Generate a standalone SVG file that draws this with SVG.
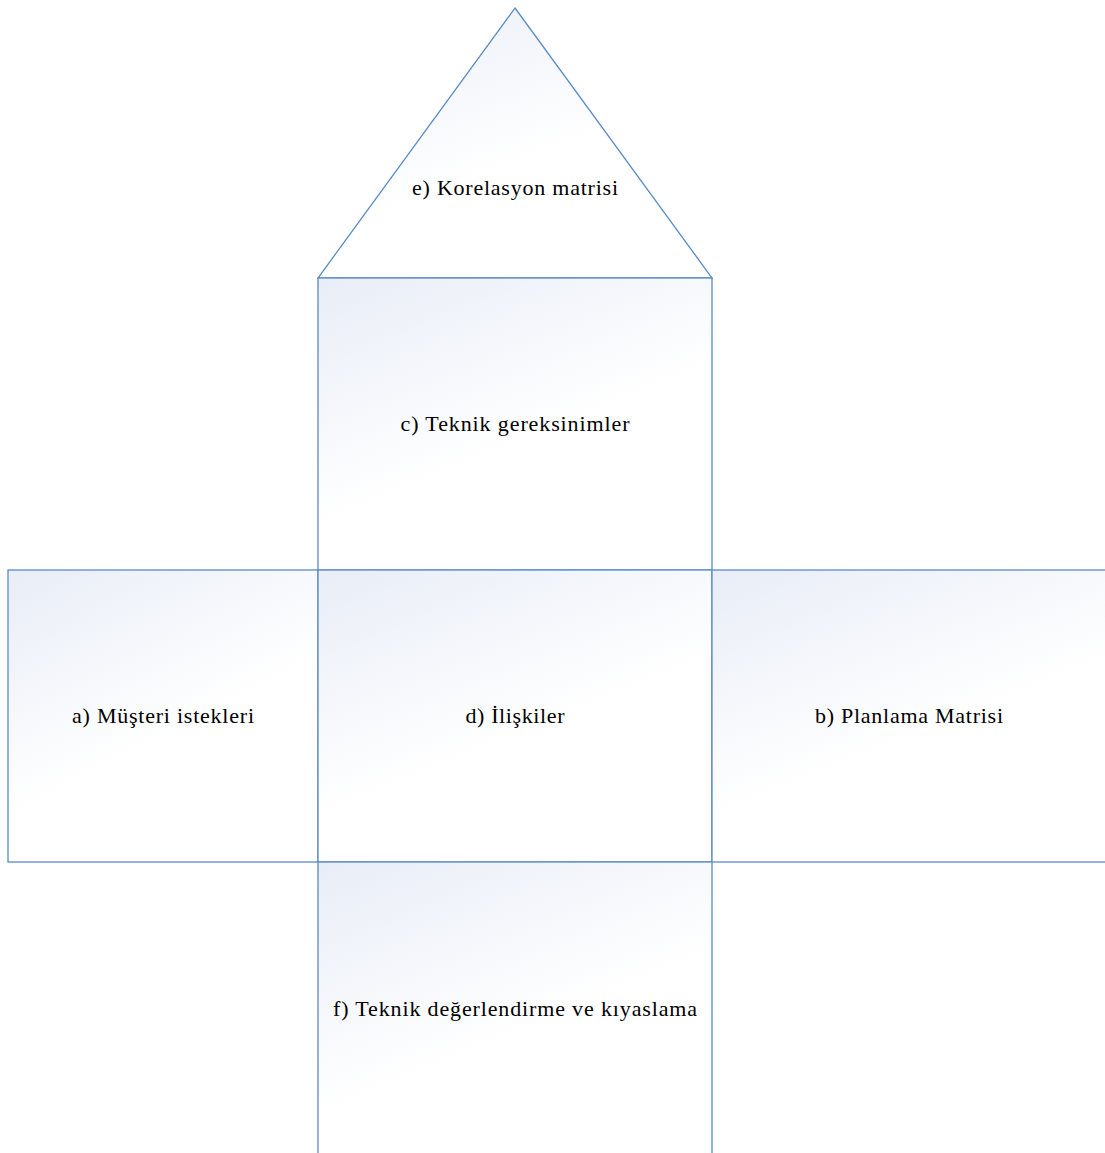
<svg xmlns="http://www.w3.org/2000/svg" width="1105" height="1153" viewBox="0 0 1105 1153">
<defs>
<linearGradient id="g" x1="0" y1="0" x2="0.55" y2="1">
<stop offset="0" stop-color="#e8edf7"/>
<stop offset="0.65" stop-color="#ffffff"/>
<stop offset="1" stop-color="#ffffff"/>
</linearGradient>
<style>
.s{fill:url(#g);stroke:#5a8cc6;stroke-width:1.3}
.t{font-family:"Liberation Serif","Times New Roman",serif;font-size:22px;fill:#000;text-anchor:middle}
</style>
</defs>
<rect width="1105" height="1153" fill="#fff"/>
<g id="node-e"><polygon class="s" points="515,8 712,278 318,278"/><text class="t" x="515" y="195" textLength="206" lengthAdjust="spacing">e) Korelasyon matrisi</text></g>
<g id="node-c"><rect class="s" x="318" y="278" width="394" height="292"/><text class="t" x="515" y="431" textLength="229" lengthAdjust="spacing">c) Teknik gereksinimler</text></g>
<g id="node-a"><rect class="s" x="8" y="570" width="310" height="292"/><text class="t" x="163" y="723" textLength="182" lengthAdjust="spacing">a) Müşteri istekleri</text></g>
<g id="node-d"><rect class="s" x="318" y="570" width="394" height="292"/><text class="t" x="515" y="723" textLength="99" lengthAdjust="spacing">d) İlişkiler</text></g>
<g id="node-b"><rect class="s" x="712" y="570" width="400" height="292"/><text class="t" x="909" y="723" textLength="188" lengthAdjust="spacing">b) Planlama Matrisi</text></g>
<g id="node-f"><rect class="s" x="318" y="862" width="394" height="300"/><text class="t" x="515" y="1016" textLength="364" lengthAdjust="spacing">f) Teknik değerlendirme ve kıyaslama</text></g>
<g id="connectors"></g>
</svg>
